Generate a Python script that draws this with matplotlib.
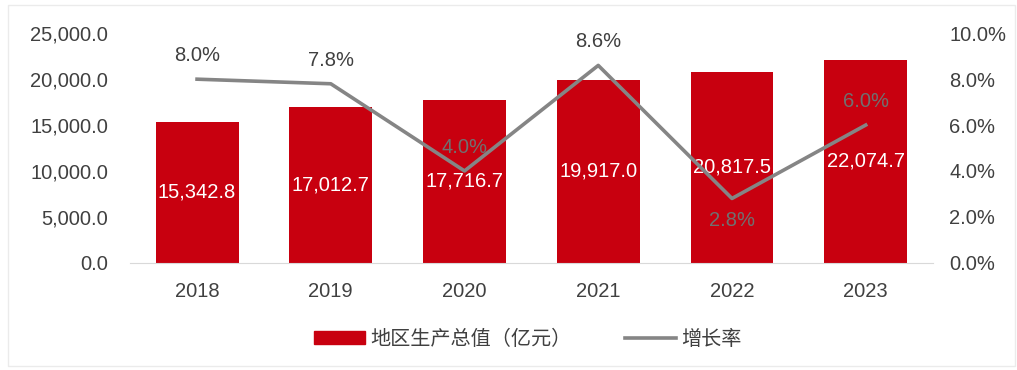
import matplotlib
matplotlib.use("Agg")
import matplotlib.pyplot as plt
from matplotlib.ticker import FuncFormatter
from matplotlib.patches import Patch, Rectangle
from matplotlib.lines import Line2D
import numpy as np

plt.rcParams['font.family'] = ['Liberation Sans', 'Noto Sans CJK SC', 'DejaVu Sans']

years = ["2018", "2019", "2020", "2021", "2022", "2023"]
gdp = [15342.8, 17012.7, 17716.7, 19917.0, 20817.5, 22074.7]
growth = [8.0, 7.8, 4.0, 8.6, 2.8, 6.0]
growth_label_pos = ["above", "above", "above", "above", "below", "above"]

bar_color = "#C8000F"
line_color = "#858585"
text_color = "#404040"
fs = 14.5

fig = plt.figure(figsize=(10.17, 3.70), dpi=100)
# faint page frame
fig.patches.append(Rectangle((0.008, 0.012), 0.99, 0.975, transform=fig.transFigure,
                             fill=False, edgecolor="#EBEBEB", linewidth=1.0))

ax = fig.add_axes([0.128, 0.29, 0.789, 0.62])
ax2 = ax.twinx()

x = np.arange(len(years))
bars = ax.bar(x, gdp, width=0.62, color=bar_color, zorder=2)
ax.bar_label(bars, labels=[f"{v:,.1f}" for v in gdp], label_type="center",
             color="white", fontsize=fs)

ax.set_xlim(-0.5, len(years) - 0.5)
ax.set_ylim(0, 25000)
ax.set_yticks(np.arange(0, 25001, 5000))
ax.yaxis.set_major_formatter(FuncFormatter(lambda v, p: f"{v:,.1f}"))
ax.set_xticks(x)
ax.set_xticklabels(years)

ax2.plot(x, growth, color=line_color, linewidth=2.6, zorder=3)
ax2.set_ylim(0, 10)
ax2.set_yticks(np.arange(0, 10.01, 2))
ax2.yaxis.set_major_formatter(FuncFormatter(lambda v, p: f"{v:.1f}%"))
for xi, g, pos in zip(x, growth, growth_label_pos):
    dy = 17 if pos == "above" else -16
    ax2.annotate(f"{g:.1f}%", (xi, g), xytext=(0, dy), textcoords="offset points",
                 ha="center", va="center",
                 color=text_color if g > 7 else "#707070", fontsize=fs)

for a in (ax, ax2):
    for s in a.spines.values():
        s.set_visible(False)
    a.tick_params(length=0, labelsize=fs, colors=text_color)
ax.spines["bottom"].set_visible(True)
ax.spines["bottom"].set_color("#D9D9D9")
ax.tick_params(axis="x", pad=14)
ax.tick_params(axis="y", pad=16)
ax2.tick_params(axis="y", pad=12)

handles = [Patch(color=bar_color), Line2D([0], [0], color=line_color, linewidth=2.6)]
fig.legend(handles, ["地区生产总值（亿元）", "增长率"], loc="center",
           bbox_to_anchor=(0.519, 0.083), ncol=2, frameon=False, fontsize=fs,
           labelcolor=text_color, handlelength=2.5, handleheight=0.6,
           handletextpad=0.25, columnspacing=2.7)

fig.savefig("out.png", dpi=100)
